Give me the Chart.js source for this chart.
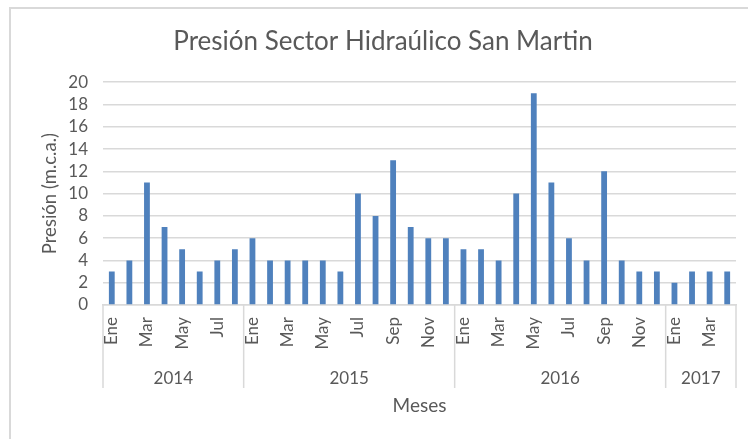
<!DOCTYPE html>
<html>
<head>
<meta charset="utf-8">
<script src="https://cdn.jsdelivr.net/npm/chart.js@4.4.1/dist/chart.umd.min.js"></script>
<style>
  body { margin: 0; background: #fff; }
  #wrap { position: relative; width: 748px; height: 439px; overflow: hidden; }
  #frame { position: absolute; left: 9px; top: 7px; width: 800px; height: 500px;
           border-left: 2px solid #d9d9d9; border-top: 2px solid #d9d9d9; }
  #chart { position: absolute; left: 0; top: 0; }
</style>
</head>
<body>
<div id="wrap">
  <div id="frame"></div>
  <canvas id="chart" width="748" height="439"></canvas>
</div>
<script>
// Month names and yearly series (m.c.a.)
const monthNames = ['Ene', 'Feb', 'Mar', 'Abr', 'May', 'Jun', 'Jul', 'Ago', 'Sep', 'Oct', 'Nov', 'Dic'];
const years = ['2014', '2015', '2016', '2017'];
const pres2014 = [3, 4, 11, 7, 5, 3, 4, 5];
const pres2015 = [6, 4, 4, 4, 4, 3, 10, 8, 13, 7, 6, 6];
const pres2016 = [5, 5, 4, 10, 19, 11, 6, 4, 12, 4, 3, 3];
const pres2017 = [2, 3, 3, 3];
const yTicks = [0, 2, 4, 6, 8, 10, 12, 14, 16, 18, 20];

const yearSeries = [pres2014, pres2015, pres2016, pres2017];
const labels = [];
const monthIdx = [];
const values = [];
yearSeries.forEach((arr) => {
  arr.forEach((v, i) => {
    labels.push(monthNames[i]);
    monthIdx.push(i);
    values.push(v);
  });
});

const TEXT = '#595959';
const GRID = '#d9d9d9';
const FONT = 'Lato, "Open Sans", sans-serif';

// Draws the year row of the two-level category axis
const yearGroups = {
  id: 'yearGroups',
  afterDraw(chart) {
    const { ctx, chartArea: area } = chart;
    const x = chart.scales.x;
    const lineEnd = area.bottom + 83;
    ctx.save();
    ctx.strokeStyle = GRID;
    ctx.lineWidth = 1.5;
    ctx.fillStyle = TEXT;
    ctx.font = '17px ' + FONT;
    ctx.textAlign = 'center';
    ctx.textBaseline = 'middle';
    let start = 0;
    yearSeries.forEach((arr, gi) => {
      const end = start + arr.length - 1;
      const left = start === 0 ? area.left
        : (x.getPixelForValue(start - 1) + x.getPixelForValue(start)) / 2;
      const right = end === labels.length - 1 ? area.right
        : (x.getPixelForValue(end) + x.getPixelForValue(end + 1)) / 2;
      ctx.beginPath();
      ctx.moveTo(left, area.bottom);
      ctx.lineTo(left, lineEnd);
      if (end === labels.length - 1) {
        ctx.moveTo(right, area.bottom);
        ctx.lineTo(right, lineEnd);
      }
      ctx.stroke();
      ctx.fillText(years[gi], (left + right) / 2, area.bottom + 74);
      start = end + 1;
    });
    ctx.restore();
  }
};

new Chart(document.getElementById('chart'), {
  type: 'bar',
  data: {
    labels,
    datasets: [{
      label: 'Presión',
      data: values,
      backgroundColor: '#4f81bd',
      borderWidth: 0,
      categoryPercentage: 1,
      barPercentage: 0.33,
    }],
  },
  options: {
    responsive: false,
    animation: false,
    layout: { padding: { left: 30, right: 12, top: 0, bottom: 0 } },
    plugins: {
      legend: { display: false },
      tooltip: { enabled: false },
      title: {
        display: true,
        text: 'Presión Sector Hidraúlico San Martin',
        color: TEXT,
        font: { family: FONT, size: 26, weight: 'normal' },
        padding: { top: 26, bottom: 25 },
      },
    },
    scales: {
      x: {
        grid: { display: false, drawTicks: false },
        border: { display: true, color: GRID, width: 1.5 },
        ticks: {
          autoSkip: false,
          minRotation: 90,
          maxRotation: 90,
          padding: 12,
          color: TEXT,
          font: { family: FONT, size: 17 },
          callback: (v, i) => (monthIdx[i] % 2 === 0 ? labels[i] : ''),
        },
        title: {
          display: true,
          text: 'Meses',
          color: TEXT,
          font: { family: FONT, size: 19 },
          padding: { top: 0, bottom: 22 },
        },
        afterFit(scale) {
          scale.height = 134;
          scale.paddingLeft = 0;
          scale.paddingRight = 0;
        },
      },
      y: {
        min: 0,
        max: 20,
        grid: { color: GRID, lineWidth: 1.5, drawTicks: false },
        border: { display: false },
        afterBuildTicks(scale) { scale.ticks = yTicks.map((v) => ({ value: v })); },
        ticks: {
          autoSkip: false,
          padding: 15,
          color: TEXT,
          font: { family: FONT, size: 17 },
        },
        title: {
          display: true,
          text: 'Presión (m.c.a.)',
          color: TEXT,
          font: { family: FONT, size: 18.5 },
          padding: { top: 9, bottom: 0 },
        },
        afterFit(scale) { scale.width = 73; },
      },
    },
  },
  plugins: [yearGroups],
});
</script>
</body>
</html>
